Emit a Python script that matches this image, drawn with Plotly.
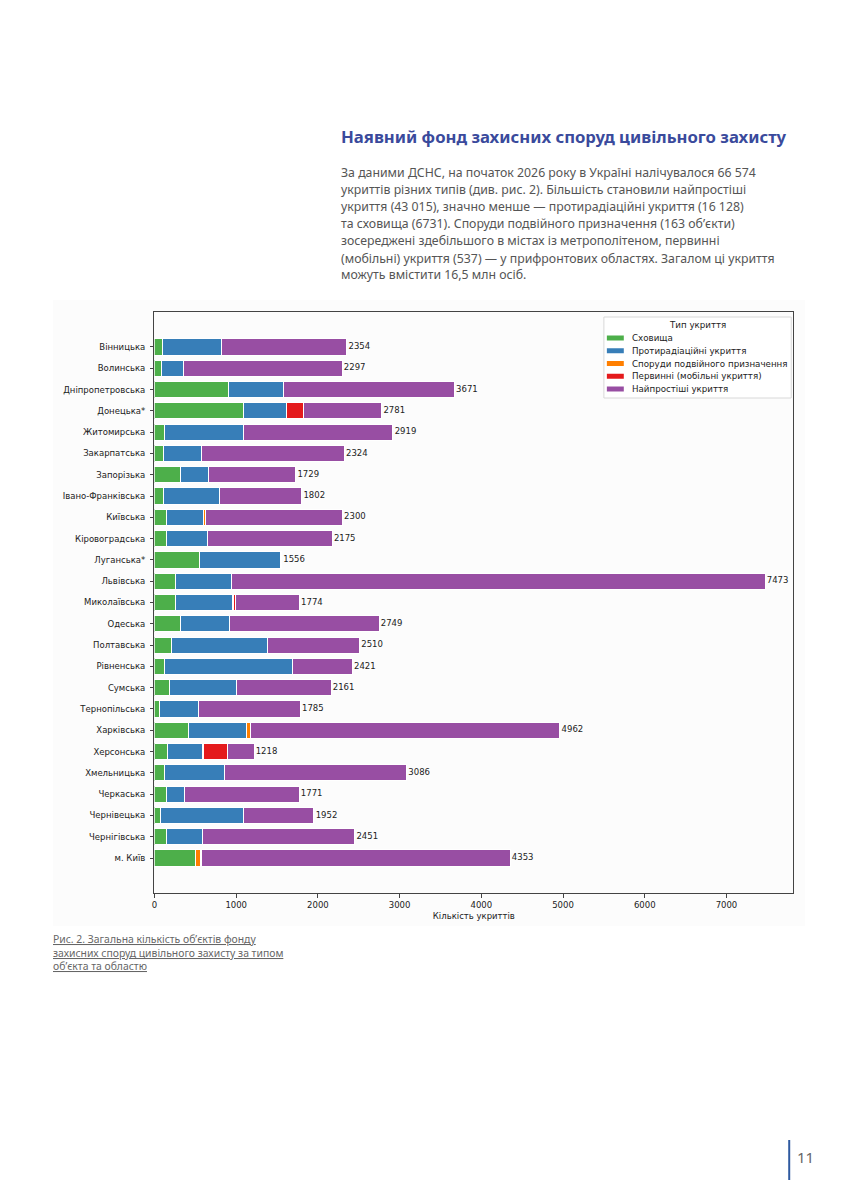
import plotly.graph_objects as go

# Дані (оцінено з рисунка)
regions = ["Вінницька", "Волинська", "Дніпропетровська", "Донецька*", "Житомирська",
           "Закарпатська", "Запорізька", "Івано-Франківська", "Київська", "Кіровоградська",
           "Луганська*", "Львівська", "Миколаївська", "Одеська", "Полтавська",
           "Рівненська", "Сумська", "Тернопільська", "Харківська", "Херсонська",
           "Хмельницька", "Черкаська", "Чернівецька", "Чернігівська", "м. Київ"]

storage = [102, 85, 906, 1089, 122, 106, 317, 110, 142, 150, 549, 256, 256, 317, 211,
           126, 187, 65, 411, 159, 118, 146, 69, 150, 508]
antirad = [715, 269, 667, 529, 967, 475, 342, 683, 456, 504, 996, 683, 695, 602, 1171,
           1561, 821, 472, 719, 426, 744, 216, 1024, 443, 0]
dual = [0, 0, 8, 0, 0, 0, 0, 0, 30, 0, 0, 0, 10, 0, 0,
        0, 0, 0, 45, 15, 0, 0, 0, 0, 55]
mobile = [0, 0, 0, 200, 0, 0, 0, 0, 0, 0, 0, 0, 25, 0, 0,
          0, 0, 0, 0, 295, 0, 0, 0, 0, 17]
simple = [1537, 1943, 2090, 963, 1830, 1743, 1070, 1009, 1672, 1521, 11, 6534, 788, 1830, 1128,
          734, 1153, 1248, 3787, 323, 2224, 1409, 859, 1858, 3773]

series = [
    ("Сховища", storage, "#4daf4a"),
    ("Протирадіаційні укриття", antirad, "#377eb8"),
    ("Споруди подвійного призначення", dual, "#ff7f00"),
    ("Первинні (мобільні укриття)", mobile, "#e41a1c"),
    ("Найпростіші укриття", simple, "#984ea3"),
]
totals = [sum(v) for v in zip(storage, antirad, dual, mobile, simple)]

# сторінка 848x1200, але в браузері body має відступ 8px
OFF = 8
W, H = 848 - OFF, 1200 - OFF
def px(x): return (x - OFF) / W
def py(y): return 1 - (y - OFF) / H

fig = go.Figure()

for name, vals, col in series:
    fig.add_trace(go.Bar(y=regions, x=vals, name=name, orientation="h",
                         marker=dict(color=col, line=dict(color="white", width=1)),
                         width=0.76, showlegend=False))

# підписи сум
fig.add_trace(go.Scatter(y=regions, x=totals, mode="text", text=["\u2009" + str(t) for t in totals],
                         textposition="middle right", showlegend=False, cliponaxis=False,
                         textfont=dict(family="DejaVu Sans", size=8.5, color="#222")))

fig.update_layout(
    width=W, height=H,
    margin=dict(l=0, r=0, t=0, b=0),
    paper_bgcolor="white", plot_bgcolor="white",
    barmode="stack",
    font=dict(family="DejaVu Sans", color="#222"),
    showlegend=False,
    xaxis=dict(domain=[px(152), px(793)], range=[0, 7817],
               tickvals=[0, 1000, 2000, 3000, 4000, 5000, 6000, 7000],
               showgrid=False, zeroline=False,
               showline=True, linecolor="#444", linewidth=1, mirror=True,
               ticks="outside", ticklen=3.5, tickcolor="#444",
               tickfont=dict(family="DejaVu Sans", size=8.5, color="#222"),
               title=dict(text="Кількість укриттів", standoff=4,
                          font=dict(family="DejaVu Sans", size=8.5, color="#222"))),
    yaxis=dict(domain=[py(893), py(312)], range=[25.64, -1.64],
               showgrid=False, zeroline=False,
               showline=True, linecolor="#444", linewidth=1, mirror=True,
               ticks="outside", ticklen=3.5, tickcolor="#444", ticklabelstandoff=3,
               tickfont=dict(family="DejaVu Sans", size=8.5, color="#222")),
)

# фон вставленого рисунка
fig.add_shape(type="rect", xref="paper", yref="paper",
              x0=px(50), x1=px(805), y0=py(926), y1=py(300),
              fillcolor="#fcfcfc", line=dict(width=0), layer="below")

# легенда (як у matplotlib: компактна рамка з назвою)
fig.add_shape(type="rect", xref="paper", yref="paper",
              x0=px(603), x1=px(791), y0=py(398), y1=py(317),
              fillcolor="white", line=dict(color="#d8d8d8", width=1))
fig.add_annotation(text="Тип укриття", xref="paper", yref="paper", x=px(697), y=py(325),
                   xanchor="center", yanchor="middle", showarrow=False,
                   font=dict(family="DejaVu Sans", size=8.7, color="#222"))
for i, (name, vals, col) in enumerate(series):
    yc = 338 + 12.75 * i
    fig.add_shape(type="rect", xref="paper", yref="paper",
                  x0=px(606), x1=px(623), y0=py(yc + 2.5), y1=py(yc - 2.5),
                  fillcolor=col, line=dict(width=0))
    fig.add_annotation(text=name, xref="paper", yref="paper", x=px(629), y=py(yc),
                       xanchor="left", yanchor="middle", showarrow=False,
                       font=dict(family="DejaVu Sans", size=8.7, color="#222"))

# заголовок і текст
fig.add_annotation(text="<b>Наявний фонд захисних споруд цивільного захисту</b>",
                   xref="paper", yref="paper", x=px(337), y=py(137),
                   xanchor="left", yanchor="middle", showarrow=False,
                   font=dict(family="Noto Sans", size=16.7, color="#3a4a9c"))

body = ["За даними ДСНС, на початок 2026 року в Україні налічувалося 66 574",
        "укриттів різних типів (див. рис. 2). Більшість становили найпростіші",
        "укриття (43 015), значно менше — протирадіаційні укриття (16 128)",
        "та сховища (6731). Споруди подвійного призначення (163 об’єкти)",
        "зосереджені здебільшого в містах із метрополітеном, первинні",
        "(мобільні) укриття (537) — у прифронтових областях. Загалом ці укриття",
        "можуть вмістити 16,5 млн осіб."]
for i, line in enumerate(body):
    fig.add_annotation(text=line, xref="paper", yref="paper", x=px(337), y=py(173 + 17 * i),
                       xanchor="left", yanchor="middle", showarrow=False,
                       font=dict(family="Noto Sans", size=12.3, color="#555"))

caption = ["Рис. 2. Загальна кількість об’єктів фонду",
           "захисних споруд цивільного захисту за типом",
           "об’єкта та областю"]
for i, line in enumerate(caption):
    fig.add_annotation(text='<span style="text-decoration:underline">' + line + "</span>",
                       xref="paper", yref="paper", x=px(48), y=py(939 + 13.5 * i),
                       xanchor="left", yanchor="middle", showarrow=False,
                       font=dict(family="Noto Sans", size=10.4, color="#666"))

# номер сторінки
fig.add_shape(type="line", xref="paper", yref="paper",
              x0=px(789), x1=px(789), y0=py(1140), y1=py(1180),
              line=dict(color="#2f5aa0", width=2))
fig.add_annotation(text="11", xref="paper", yref="paper", x=px(795), y=py(1157),
                   xanchor="left", yanchor="middle", showarrow=False,
                   font=dict(family="Noto Sans", size=15, color="#666"))

fig.write_html("out.html")
